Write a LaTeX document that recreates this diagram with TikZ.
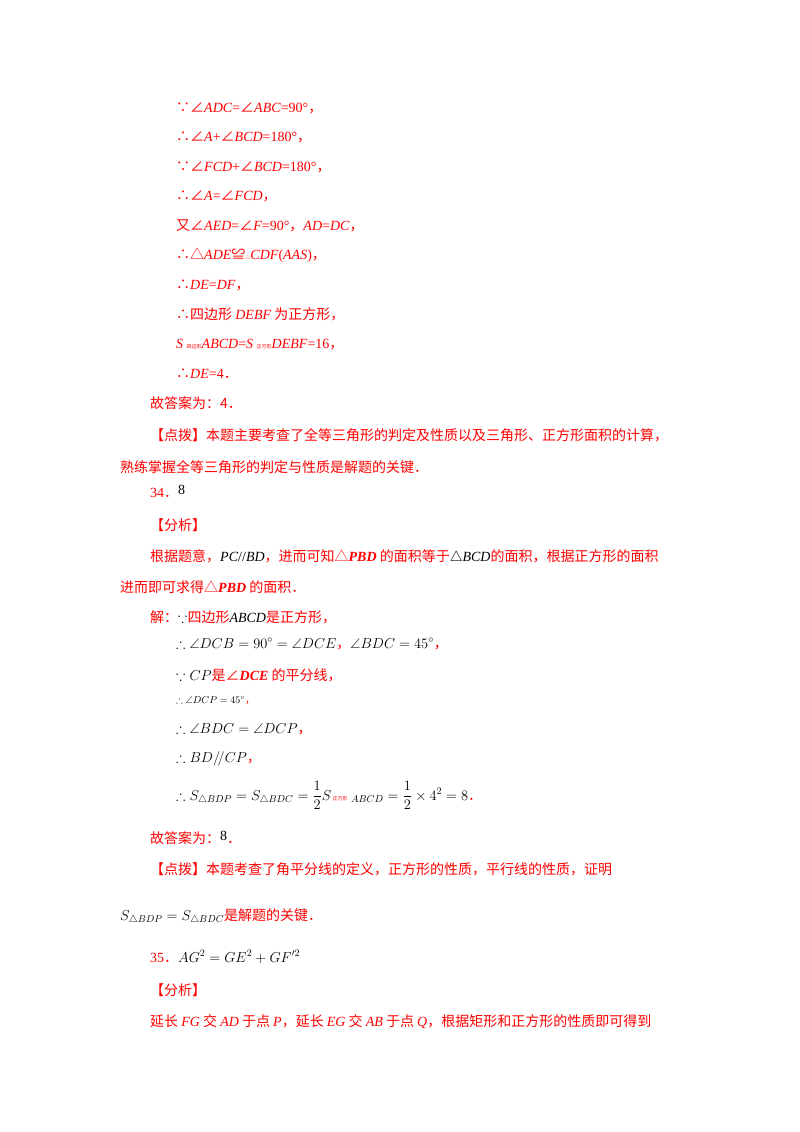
\documentclass[tikz,border=0pt]{standalone}
\usepackage{amsmath,amssymb}
\usepackage{fontspec}
\setmainfont{Liberation Serif}
\newfontfamily\zhf{Noto Sans CJK SC}
\newcommand\zh[1]{{\zhf #1}}
\newcommand\I[1]{\textit{#1}}
\newcommand\ang{{\zhf ∠}}
\begin{document}
\begin{tikzpicture}[x=1pt,y=-1pt,
  t/.style={anchor=base west,inner sep=0,text=red,font=\fontsize{14}{16}\selectfont}]
\useasboundingbox (0,0) rectangle (800,1132);
\node[t] (l1) at (176,112) {\zh{∵}\ang\I{ADC}=\ang\I{ABC}=90°\zh{，}};
\node[t] (l2) at (176,141) {\zh{∴}\ang\I{A}+\ang\I{BCD}=180°\zh{，}};
\node[t] (l3) at (176,171) {\zh{∵}\ang\I{FCD}+\ang\I{BCD}=180°\zh{，}};
\node[t] (l4) at (176,200) {\zh{∴}\ang\I{A}=\ang\I{FCD}\zh{，}};
\node[t] (l5) at (176,230) {\zh{又}\ang\I{AED}=\ang\I{F}=90°\zh{，}\I{AD}=\I{DC}\zh{，}};
\node[t] (l6) at (176,259) {\zh{∴△}\I{ADE}\zh{≌}{\tiny\zhf △}\I{CDF}(\I{AAS})\zh{，}};
\node[t] (l7) at (176,289) {\zh{∴}\I{DE}=\I{DF}\zh{，}};
\node[t] (l8) at (176,319) {\zh{∴四边形 }\I{DEBF}\zh{ 为正方形，}};
\node[t] (l9) at (176,348) {\I{S} {\tiny\zhf 四边形}\I{ABCD}=\I{S} {\tiny\zhf 正方形}\I{DEBF}=16\zh{，}};
\node[t] (l10) at (176,378) {\zh{∴}\I{DE}=4\zh{．}};
\node[t] (l11) at (150,408) {\zh{故答案为：4．}};
\node[t] (l12) at (150,440) {\zh{【点拨】本题主要考查了全等三角形的判定及性质以及三角形、正方形面积的计算，}};
\node[t] (l13) at (120,472) {\zh{熟练掌握全等三角形的判定与性质是解题的关键．}};
\node[t] (l14) at (150,497) {34\zh{．}\textcolor{black}{\raisebox{3pt}{8}}};
\node[t] (l15) at (150,530) {\zh{【分析】}};
\node[t] (l16) at (150,561) {\zh{根据题意，}\textcolor{black}{\I{PC}//\I{BD}}\zh{，进而可知△}\I{\textbf{PBD}}\zh{ 的面积等于}\textcolor{black}{$\triangle$\I{BCD}}\zh{的面积，根据正方形的面积}};
\node[t] (l17) at (120,592) {\zh{进而即可求得△}\I{\textbf{PBD}}\zh{ 的面积．}};
\node[t] (l18) at (150,622) {\zh{解：}\textcolor{black}{$\because$}\zh{四边形}\textcolor{black}{\I{ABCD}}\zh{是正方形，}};
\node[t] (l19) at (176,648) {\textcolor{black}{$\therefore\angle DCB=90^\circ=\angle DCE$}\zh{，}\textcolor{black}{$\angle BDC=45^\circ$}\zh{，}};
\node[t] (l20) at (176,680) {\textcolor{black}{$\because CP$}\zh{是∠}\I{\textbf{DCE}}\zh{ 的平分线，}};
\node[t,font=\fontsize{10}{12}\selectfont] (l21) at (176,703) {\textcolor{black}{$\therefore\angle DCP=45^\circ$}\zh{，}};
\node[t] (l22) at (176,733) {\textcolor{black}{$\therefore\angle BDC=\angle DCP$}\zh{，}};
\node[t] (l23) at (176,762) {\textcolor{black}{$\therefore BD/\!/CP$}\zh{，}};
\node[t] (l24) at (176,800) {\textcolor{black}{$\therefore S_{\triangle BDP}=S_{\triangle BDC}=\dfrac12S$}{\tiny\zhf\ 正方形} \textcolor{black}{$_{ABCD}=\dfrac12\times4^2=8$}\zh{．}};
\node[t] (l25) at (150,843) {\zh{故答案为：}\textcolor{black}{\raisebox{3pt}{8}}\zh{．}};
\node[t] (l26) at (150,874) {\zh{【点拨】本题考查了角平分线的定义，正方形的性质，平行线的性质，证明}};
\node[t] (l27) at (120,920) {\textcolor{black}{$S_{\triangle BDP}=S_{\triangle BDC}$}\zh{是解题的关键．}};
\node[t] (l28) at (150,962) {35\zh{．}\textcolor{black}{$AG^2=GE^2+GF'^2$}};
\node[t] (l29) at (150,995) {\zh{【分析】}};
\node[t] (l30) at (150,1026) {\zh{延长 }\I{FG}\zh{ 交 }\I{AD}\zh{ 于点 }\I{P}\zh{，延长 }\I{EG}\zh{ 交 }\I{AB}\zh{ 于点 }\I{Q}\zh{，根据矩形和正方形的性质即可得到}};
\end{tikzpicture}
\end{document}
